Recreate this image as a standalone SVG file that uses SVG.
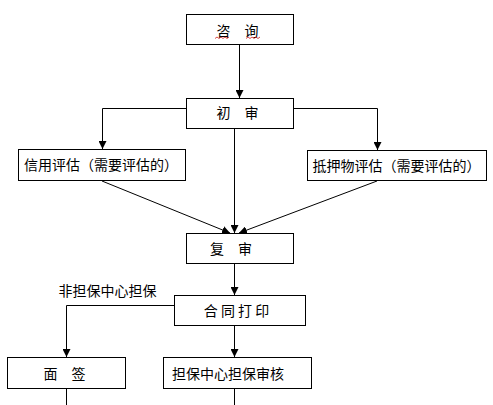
<svg xmlns="http://www.w3.org/2000/svg" width="493" height="405" viewBox="0 0 493 405">
<style>
.box{fill:#fff;stroke:#000;stroke-width:1}
.t{font-family:"Noto Sans CJK SC","Noto Sans",sans-serif;font-size:14px;fill:#000;text-anchor:middle}
.c{stroke:#000;stroke-width:1;fill:none}
</style>
<defs>
<marker id="ah" markerWidth="8" markerHeight="8" refX="8" refY="4" orient="auto" markerUnits="userSpaceOnUse">
<path d="M0,0 L8,4 L0,8 Z" fill="#000"/>
</marker>
</defs>
<rect width="493" height="405" fill="#fff"/>
<g id="connectors">
<line class="c" x1="239.5" y1="45" x2="239.5" y2="98" stroke="#666" marker-end="url(#ah)"/>
<polyline class="c" points="186,108.5 102.5,108.5 102.5,149" marker-end="url(#ah)"/>
<polyline class="c" points="294,108.5 377.5,108.5 377.5,150" marker-end="url(#ah)"/>
<line class="c" x1="234.5" y1="129" x2="234.5" y2="233" marker-end="url(#ah)"/>
<line class="c" x1="102" y1="181" x2="230" y2="233" marker-end="url(#ah)"/>
<line class="c" x1="377" y1="181" x2="239" y2="233" marker-end="url(#ah)"/>
<line class="c" x1="234.5" y1="264" x2="234.5" y2="295" marker-end="url(#ah)"/>
<polyline class="c" points="174,305.5 66.5,305.5 66.5,357" marker-end="url(#ah)"/>
<line class="c" x1="234.5" y1="326" x2="234.5" y2="357" marker-end="url(#ah)"/>
<line class="c" x1="66.5" y1="389" x2="66.5" y2="405"/>
<line class="c" x1="234.5" y1="389" x2="234.5" y2="405"/>
</g>
<g id="zixun">
<rect class="box" x="186.5" y="14.5" width="107" height="30"/>
<text class="t" x="237.5" y="36">咨　询</text>
<path d="M215,38.5 l2,-1.5 l2,1.5 l2,-1.5 l2,1.5 l2,-1.5 l2,1.5 l2,-1.5 M246,38.5 l2,-1.5 l2,1.5 l2,-1.5 l2,1.5 l2,-1.5 l2,1.5 l2,-1.5" stroke="#d02020" stroke-width="0.8" fill="none"/>
</g>
<g id="chushen">
<rect class="box" x="186.5" y="98.5" width="107" height="30"/>
<text class="t" x="237.5" y="118">初　审</text>
</g>
<g id="xinyong">
<rect class="box" x="18.5" y="149.5" width="167" height="31"/>
<text class="t" x="101" y="170">信用评估（需要评估的）</text>
</g>
<g id="diya">
<rect class="box" x="307.5" y="150.5" width="179" height="30"/>
<text class="t" x="396.5" y="171">抵押物评估（需要评估的）</text>
</g>
<g id="fushen">
<rect class="box" x="186.5" y="233.5" width="107" height="30"/>
<text class="t" x="231" y="254">复　审</text>
</g>
<g id="label">
<text class="t" x="107.5" y="295.5">非担保中心担保</text>
</g>
<g id="hetong">
<rect class="box" x="174.5" y="295.5" width="131" height="30"/>
<text class="t" x="236.5" y="316" xml:space="preserve">合 同 打 印</text>
</g>
<g id="mianqian">
<rect class="box" x="7.5" y="357.5" width="118" height="31"/>
<text class="t" x="64.5" y="378.5">面　签</text>
</g>
<g id="danbao">
<rect class="box" x="163.5" y="357.5" width="148" height="31"/>
<text class="t" x="228" y="378.5">担保中心担保审核</text>
</g>
</svg>
